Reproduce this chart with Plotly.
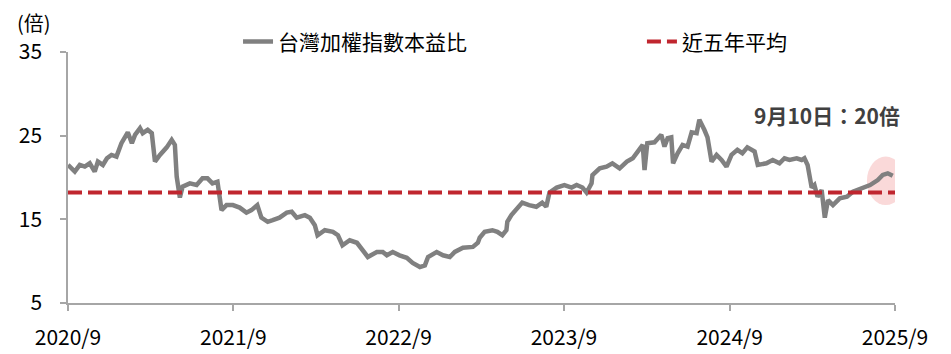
import plotly.graph_objects as go

# 台灣加權指數本益比 (approximate readings from the chart)
dates = [
    "2020-09-01", "2020-09-16", "2020-09-27", "2020-10-08", "2020-10-19", "2020-10-30",
    "2020-11-06", "2020-11-17", "2020-11-26", "2020-12-06", "2020-12-17", "2020-12-28",
    "2021-01-11", "2021-01-20", "2021-01-27", "2021-02-07", "2021-02-13", "2021-02-24",
    "2021-03-05", "2021-03-12", "2021-03-23", "2021-04-07", "2021-04-18", "2021-04-25",
    "2021-04-29", "2021-05-06", "2021-05-12", "2021-05-28", "2021-06-12", "2021-06-25",
    "2021-07-06", "2021-07-17", "2021-07-28", "2021-08-06", "2021-08-17", "2021-08-31",
    "2021-09-15", "2021-09-30", "2021-10-11", "2021-10-24", "2021-11-02", "2021-11-16",
    "2021-11-27", "2021-12-12", "2021-12-28", "2022-01-08", "2022-01-19", "2022-02-06",
    "2022-02-17", "2022-02-28", "2022-03-06", "2022-03-22", "2022-04-09", "2022-04-20",
    "2022-04-30", "2022-05-16", "2022-06-01", "2022-06-14", "2022-06-25", "2022-07-15",
    "2022-07-28", "2022-08-06", "2022-08-19", "2022-09-03", "2022-09-19", "2022-10-02",
    "2022-10-18", "2022-10-29", "2022-11-05", "2022-11-24", "2022-12-08", "2022-12-23",
    "2023-01-03", "2023-01-21", "2023-02-12", "2023-02-23", "2023-02-27", "2023-03-10",
    "2023-03-27", "2023-04-07", "2023-04-18", "2023-04-27", "2023-04-29", "2023-05-08",
    "2023-05-19", "2023-06-01", "2023-06-16", "2023-07-02", "2023-07-15", "2023-07-24",
    "2023-07-31", "2023-08-16", "2023-09-02", "2023-09-18", "2023-09-29", "2023-10-12",
    "2023-10-21", "2023-11-01", "2023-11-03", "2023-11-19", "2023-12-04", "2023-12-17",
    "2024-01-02", "2024-01-18", "2024-01-31", "2024-02-08", "2024-02-22", "2024-02-26",
    "2024-03-03", "2024-03-19", "2024-04-03", "2024-04-10", "2024-04-17", "2024-04-25",
    "2024-04-29", "2024-05-09", "2024-05-20", "2024-05-31", "2024-06-09", "2024-06-20",
    "2024-06-26", "2024-07-07", "2024-07-14", "2024-07-23", "2024-08-03", "2024-08-14",
    "2024-08-25", "2024-09-05", "2024-09-18", "2024-09-29", "2024-10-10", "2024-10-26",
    "2024-11-02", "2024-11-21", "2024-12-05", "2024-12-20", "2024-12-31", "2025-01-11",
    "2025-01-27", "2025-02-07", "2025-02-13", "2025-02-20", "2025-03-01", "2025-03-07",
    "2025-03-14", "2025-03-23", "2025-03-30", "2025-04-06", "2025-04-17", "2025-05-02",
    "2025-05-18", "2025-05-31", "2025-06-22", "2025-07-08", "2025-07-25", "2025-08-05",
    "2025-08-16", "2025-08-27",
]
pe = [
    21.5, 20.7, 21.5, 21.3, 21.7, 20.7,
    21.9, 21.5, 22.3, 22.7, 22.5, 24.1,
    25.4, 24.1, 25.1, 25.9, 25.3, 25.7,
    25.3, 21.9, 22.7, 23.6, 24.5, 23.9,
    20.1, 17.6, 18.9, 19.3, 19.1, 19.9,
    19.9, 19.3, 19.5, 16.1, 16.7, 16.7,
    16.4, 15.8, 16.1, 16.7, 15.2, 14.7,
    14.9, 15.2, 15.8, 15.9, 15.2, 15.5,
    15.2, 14.3, 13.1, 13.7, 13.5, 13.1,
    11.9, 12.5, 12.2, 11.3, 10.5, 11.1,
    11.1, 10.7, 11.1, 10.7, 10.4, 9.8,
    9.3, 9.5, 10.5, 11.1, 10.7, 10.5,
    11.1, 11.6, 11.7, 12.2, 12.8, 13.5,
    13.7, 13.5, 13.1, 13.7, 14.7, 15.5,
    16.1, 17.0, 16.7, 16.5, 17.0, 16.5,
    18.2, 18.8, 19.1, 18.8, 19.1, 18.8,
    18.2, 19.3, 20.3, 21.1, 21.3, 21.7,
    21.1, 21.9, 22.3, 22.9, 23.9, 20.9,
    24.1, 24.2, 25.1, 23.7, 24.7, 24.8,
    21.7, 22.9, 23.9, 23.7, 25.4, 25.3,
    26.9, 25.7, 24.8, 21.9, 22.7, 22.1,
    21.3, 22.7, 23.3, 22.9, 23.6, 23.1,
    21.5, 21.7, 22.1, 21.7, 22.3, 22.1,
    22.3, 22.1, 22.3, 21.5, 18.8, 19.1,
    17.7, 18.5, 15.2, 17.3, 16.7, 17.5,
    17.7, 18.3, 18.8, 19.1, 19.7, 20.3,
    20.5, 20.2,
]

# 近五年平均
avg_dates = ["2020-09-01", "2025-09-01"]
avg_vals = [18.2, 18.2]

ytick_vals = [5, 15, 25, 35]
xtick_vals = ["2020-09-01", "2021-09-01", "2022-09-01", "2023-09-01", "2024-09-01", "2025-09-01"]
xtick_text = ["2020/9", "2021/9", "2022/9", "2023/9", "2024/9", "2025/9"]

FONT = "Noto Sans CJK TC, Noto Sans, sans-serif"
GRAY = "#808080"
RED = "#C0262F"
AXIS = "#a6a6a6"

fig = go.Figure()
fig.add_trace(go.Scatter(
    x=dates, y=pe, mode="lines", name="台灣加權指數本益比",
    line=dict(color=GRAY, width=4.5), legend="legend",
))
fig.add_trace(go.Scatter(
    x=avg_dates, y=avg_vals, mode="lines", name="近五年平均",
    line=dict(color=RED, width=4, dash="14px,6px"), legend="legend2",
))

# highlight circle around the latest reading
fig.add_shape(type="circle", xref="x", yref="y",
              x0="2025-07-01", x1="2025-09-22", y0=16.7, y1=22.5,
              fillcolor="rgba(244,170,170,0.45)", line=dict(width=0), layer="below")

fig.add_annotation(text="9月10日：20倍", xref="paper", yref="paper",
                   x=0.918, y=0.749, xanchor="center", yanchor="middle",
                   showarrow=False, font=dict(family=FONT, size=21, color="#404040", weight="bold"))
fig.add_annotation(text="(倍)", xref="paper", yref="paper",
                   x=-0.0411, y=1.1195, xanchor="center", yanchor="middle",
                   showarrow=False, font=dict(family=FONT, size=20, color="#000000"))

legend_common = dict(orientation="h", xanchor="left", y=1.04, yanchor="middle",
                     font=dict(size=21), bgcolor="rgba(0,0,0,0)")

fig.update_layout(
    width=951, height=354,
    margin=dict(l=68, r=56, t=52, b=51, autoexpand=False),
    paper_bgcolor="white", plot_bgcolor="white",
    font=dict(family=FONT, size=21, color="#000000"),
    showlegend=True,
    legend=dict(x=0.2056, **legend_common),
    legend2=dict(x=0.694, **legend_common),
    xaxis=dict(range=["2020-09-01", "2025-09-01"], tickvals=xtick_vals, ticktext=xtick_text,
               showgrid=False, zeroline=False, showline=True, linecolor=AXIS, linewidth=1.5,
               ticks="outside", ticklen=6, tickcolor=AXIS, tickwidth=1.5, automargin=False,
               tickfont=dict(size=21), ticklabelstandoff=9),
    yaxis=dict(range=[5, 35], tickvals=ytick_vals,
               showgrid=False, zeroline=False, showline=True, linecolor=AXIS, linewidth=1.5,
               ticks="outside", ticklen=6, tickcolor=AXIS, tickwidth=1.5, automargin=False,
               tickfont=dict(size=21), ticklabelstandoff=14),
)

fig.write_html("out.html")
